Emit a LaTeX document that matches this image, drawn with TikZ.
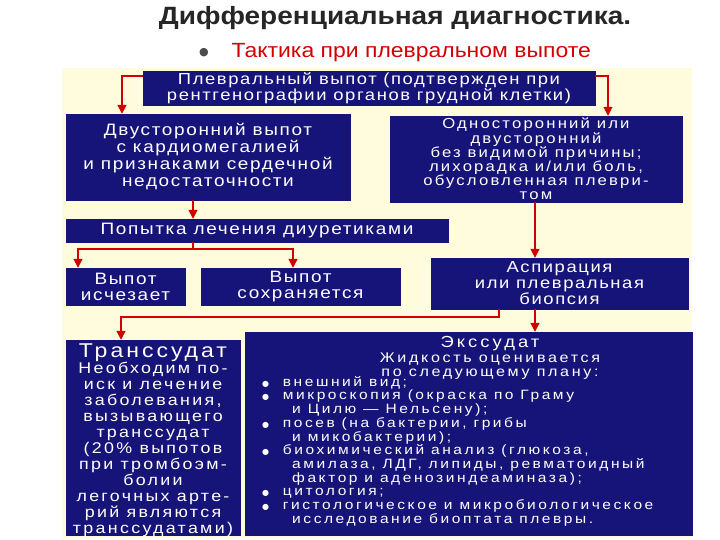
\documentclass[tikz,border=0pt]{standalone}
\usepackage{fontspec}
\setmainfont{Liberation Sans}
\newfontfamily\bx[LetterSpace=10,FakeStretch=1.15]{Liberation Sans}
\newfontfamily\bxl[LetterSpace=19,FakeStretch=1.15]{Liberation Sans}
\newfontfamily\bxm[LetterSpace=15,FakeStretch=1.15]{Liberation Sans}
\newfontfamily\tf[FakeStretch=1.12]{Liberation Sans}
\newfontfamily\dv{DejaVu Sans}
\usetikzlibrary{arrows.meta}
\definecolor{navy}{RGB}{22,20,120}
\definecolor{paper}{RGB}{255,252,222}
\definecolor{arr}{RGB}{210,0,0}
\tikzset{
 box/.style={fill=navy,draw=navy,inner sep=0pt,text=white,align=center},
 ar/.style={draw=arr,line width=1.6pt,-{Triangle[width=9pt,length=9pt]}},
 ln/.style={draw=arr,line width=1.6pt},
 txt/.style={text=white,inner sep=0pt}
}
\newcommand\bl{{\dv\fontsize{8}{8}\selectfont●}\ \ }
\newcommand\ind{\phantom{●}\ \ \ }
\begin{document}
\begin{tikzpicture}[x=1pt,y=-1pt]
\useasboundingbox[fill=white] (0,0) rectangle (720,540);
\fill[paper] (62,68) rectangle (692,538);
\node[font=\tf\bfseries\fontsize{25}{27}\selectfont,text=black!85] (title) at (395,18) {Дифференциальная диагностика.};
\node[font=\dv\fontsize{11}{11}\selectfont,text=black!70] (bul) at (204,53) {●};
\node[anchor=west,font=\tf\fontsize{20.5}{22}\selectfont,text=arr] (sub) at (228,53) {Тактика при плевральном выпоте};
% boxes
\node[box,minimum width=452,minimum height=34,font=\bx\fontsize{16}{16}\selectfont] (b1) at (369,88) {Плевральный выпот (подтвержден при\\рентгенографии органов грудной клетки)};
\node[box,minimum width=284,minimum height=86,font=\bx\fontsize{16.5}{17}\selectfont] (b2) at (208,157) {Двусторонний выпот\\с кардиомегалией\\и признаками сердечной\\недостаточности};
\node[box,minimum width=292,minimum height=86,font=\bxm\fontsize{14.5}{14.2}\selectfont] (b3) at (536,159) {Односторонний или\\двусторонний\\без видимой причины;\\лихорадка и/или боль,\\обусловленная плеври-\\том};
\node[box,minimum width=382,minimum height=23,font=\bx\fontsize{16.5}{16}\selectfont] (b4) at (257,230.5) {Попытка лечения диуретиками};
\node[box,minimum width=119,minimum height=37,font=\bx\fontsize{16.5}{16}\selectfont] (b5) at (125.5,286.5) {Выпот\\исчезает};
\node[box,minimum width=199,minimum height=37,font=\bx\fontsize{16.5}{16}\selectfont] (b6) at (300.5,286.5) {Выпот\\сохраняется};
\node[box,minimum width=257,minimum height=51,font=\bx\fontsize{16}{16}\selectfont] (b7) at (559.5,283.5) {Аспирация\\или плевральная\\биопсия};
\node[box,minimum width=174,minimum height=195] (b8) at (153,437.5) {};
\node[txt,align=center,font=\bxm\fontsize{15.5}{16}\selectfont] (t8) at (153,440) {{\fontsize{20}{18}\selectfont Транссудат}\\Необходим по-\\иск и лечение\\заболевания,\\вызывающего\\транссудат\\(20\% выпотов\\при тромбоэм-\\болии\\легочных арте-\\рий являются\\транссудатами)};
\node[box,minimum width=447,minimum height=203] (b9) at (468.5,433.5) {};
\node[txt,align=center,font=\bxl\fontsize{14}{14.3}\selectfont] (h9) at (490,358) {\fontsize{16}{15}\selectfont Экссудат\\Жидкость оценивается\\по следующему плану:};
\node[txt,anchor=north west,align=left,font=\bxl\fontsize{13.5}{13.7}\selectfont] (l9) at (262,376) {%
\bl внешний вид;\\
\bl микроскопия (окраска по Граму\\
\ind и Цилю — Нельсену);\\
\bl посев (на бактерии, грибы\\
\ind и микобактерии);\\
\bl биохимический анализ (глюкоза,\\
\ind амилаза, ЛДГ, липиды, ревматоидный\\
\ind фактор и аденозиндеаминаза);\\
\bl цитология;\\
\bl гистологическое и микробиологическое\\
\ind исследование биоптата плевры.};
% connectors
\draw[ar] (b1.west |- 0,76) -| (b2.north -| 122,0);
\draw[ar] (b1.east |- 0,76) -| (b3.north -| 608,0);
\draw[ar] (b2.south -| 193,0) -- (b4.north -| 193,0);
\draw[ar] (b3.south -| 535,0) -- (b7.north -| 535,0);
\coordinate (j1) at (193,249);
\draw[ln] (b4.south -| 193,0) -- (j1);
\draw[ar] (j1) -| (b5.north -| 78,0);
\draw[ar] (j1) -| (b6.north -| 293,0);
\draw[ar] (b7.south -| 499,0) |- (121,317) -- (b8.north -| 121,0);
\draw[ar] (b7.south -| 535,0) -- (b9.north -| 535,0);
\end{tikzpicture}
\end{document}
